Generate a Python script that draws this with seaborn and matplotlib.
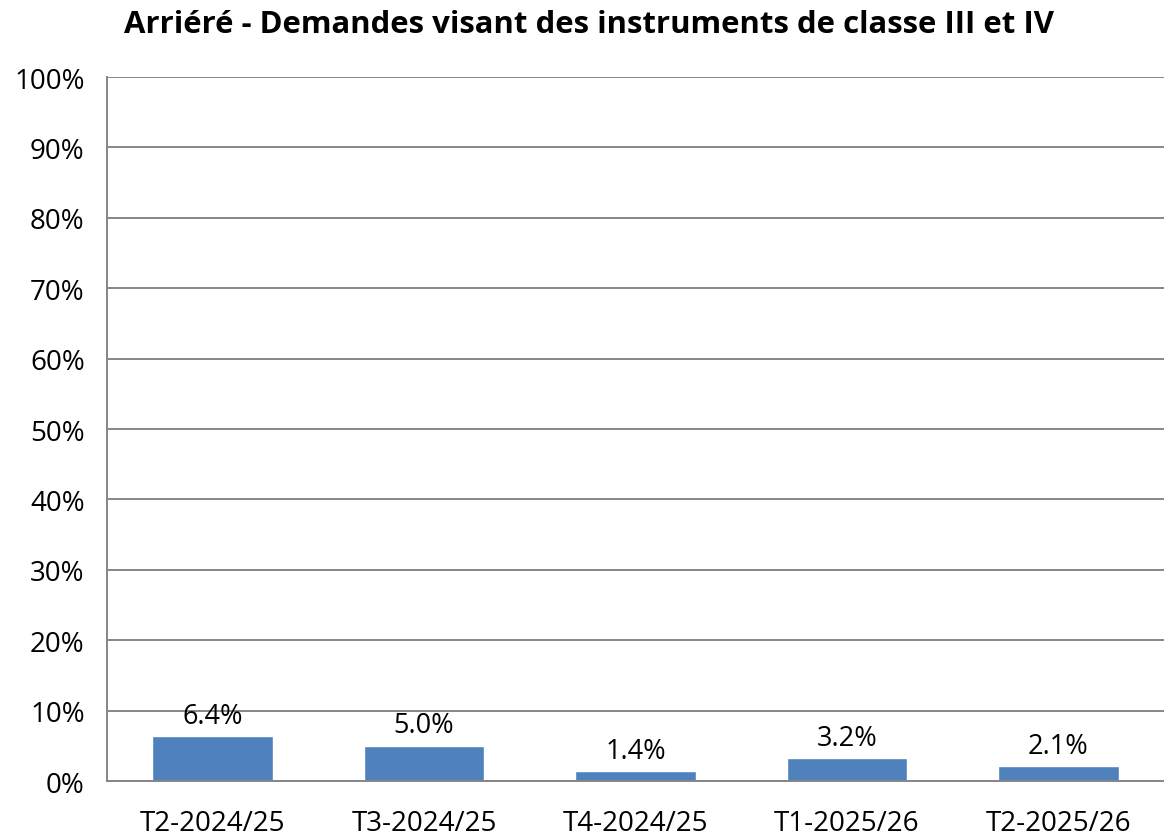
import matplotlib
matplotlib.use("Agg")
import matplotlib.pyplot as plt
import seaborn as sns
import pandas as pd
from matplotlib.ticker import PercentFormatter

categories = ["T2-2024/25", "T3-2024/25", "T4-2024/25", "T1-2025/26", "T2-2025/26"]
values = [6.4, 5.0, 1.4, 3.2, 2.1]
yticks = list(range(0, 101, 10))

df = pd.DataFrame({"periode": categories, "arriere": values})

sns.set_style("white")
plt.rcParams['font.family'] = ['Open Sans', 'DejaVu Sans']
plt.rcParams['text.color'] = 'black'
plt.rcParams['xtick.labelcolor'] = 'black'
plt.rcParams['ytick.labelcolor'] = 'black'

fig = plt.figure(figsize=(11.64, 8.37), dpi=100)
ax = fig.add_axes([0.0919, 0.0657, 0.9081, 0.8411])

sns.barplot(data=df, x="periode", y="arriere", color="#4F81BD", width=0.57,
            saturation=1, ax=ax)

for i, v in enumerate(values):
    ax.text(i, v + 0.9, f"{v:.1f}%", ha="center", va="bottom", fontsize=19.5)

ax.set_ylim(0, 100)
ax.set_xlim(-0.5, len(categories) - 0.5)
ax.set_yticks(yticks)
ax.yaxis.set_major_formatter(PercentFormatter(decimals=0))
ax.set_axisbelow(True)
ax.yaxis.grid(True, color="#868686", linewidth=1.4)
ax.xaxis.grid(False)
ax.set_xlabel("")
ax.set_ylabel("")

ax.set_xticks([i + 0.5 for i in range(-1, len(categories))], minor=True)
ax.tick_params(axis="x", which="major", length=0, pad=20, labelsize=20)
ax.tick_params(axis="x", which="minor", length=8, width=1.4, color="#868686", direction="out")
ax.tick_params(axis="y", length=8, width=1.4, color="#868686", direction="out", labelsize=20, pad=8)

for s in ["top", "right"]:
    ax.spines[s].set_visible(False)
for s in ["left", "bottom"]:
    ax.spines[s].set_color("#868686")
    ax.spines[s].set_linewidth(1.4)

fig.suptitle("Arriéré - Demandes visant des instruments de classe III et IV",
             x=0.506, y=0.988, fontsize=22.4, fontweight="bold")

fig.savefig("out.png", dpi=100)
